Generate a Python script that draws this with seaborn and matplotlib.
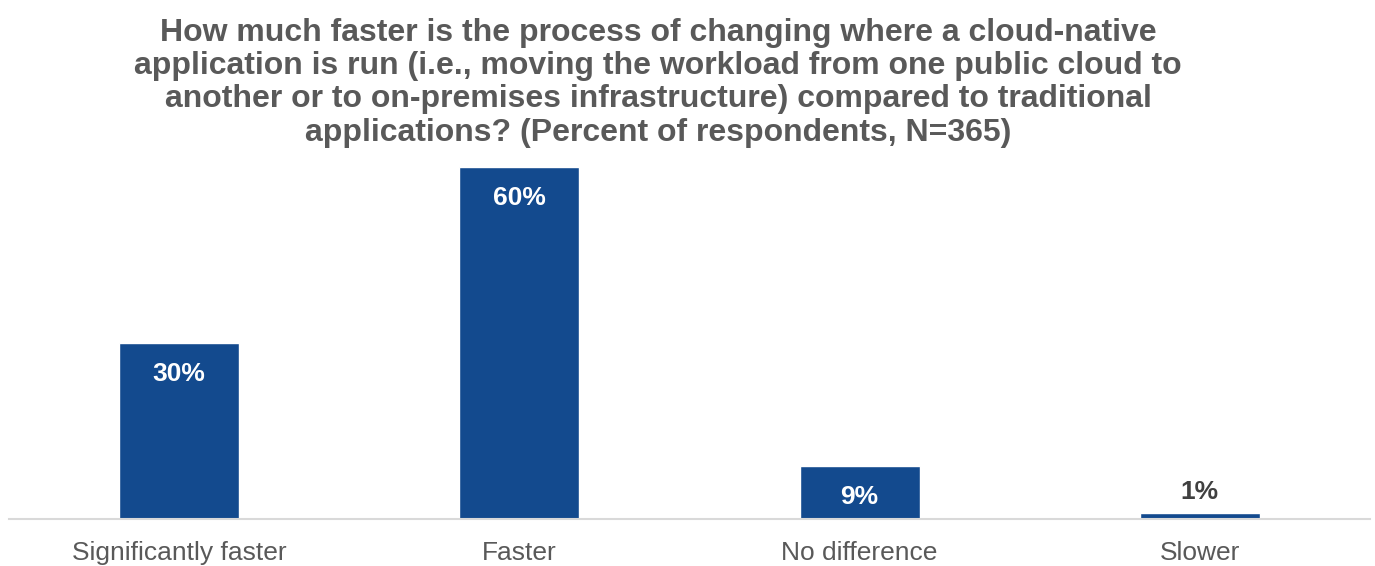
import matplotlib
matplotlib.use("Agg")
import matplotlib.pyplot as plt
import seaborn as sns
import pandas as pd

categories = ["Significantly faster", "Faster", "No difference", "Slower"]
percents = [30, 60, 9, 1]
title = ("How much faster is the process of changing where a cloud-native\n"
         "application is run (i.e., moving the workload from one public cloud to\n"
         "another or to on-premises infrastructure) compared to traditional\n"
         "applications? (Percent of respondents, N=365)")

df = pd.DataFrame({"answer": categories, "pct": percents})

sns.set_style("white")
plt.rcParams["font.family"] = ["Liberation Sans", "DejaVu Sans"]

fig = plt.figure(figsize=(13.75, 5.66), dpi=100)
ax = fig.add_axes([9/1375, 47/566, 1361/1375, 352/566])

sns.barplot(data=df, x="answer", y="pct", color="#134a8e", width=0.353,
            saturation=1, ax=ax)

ax.set_xlim(-0.5, 3.5)
ax.set_ylim(0, 60)
ax.set_xlabel("")
ax.set_ylabel("")
ax.set_yticks([])
ax.tick_params(axis="x", length=0, labelsize=19, labelcolor="#595959", pad=16)
for s in ["top", "left", "right"]:
    ax.spines[s].set_visible(False)
ax.spines["bottom"].set_color("#d9d9d9")
ax.spines["bottom"].set_linewidth(1.5)

for i, v in enumerate(percents):
    if v >= 5:
        ax.text(i, v - 3.2, f"{v}%", ha="center", va="top", color="white",
                fontsize=19, fontweight="bold")
    else:
        ax.text(i, v + 1.6, f"{v}%", ha="center", va="bottom", color="#404040",
                fontsize=19, fontweight="bold")

fig.text(658/1375, 1 - 18/566, title, ha="center", va="top", fontsize=23,
         fontweight="bold", color="#595959", linespacing=1.14)

fig.savefig("out.png", dpi=100)
